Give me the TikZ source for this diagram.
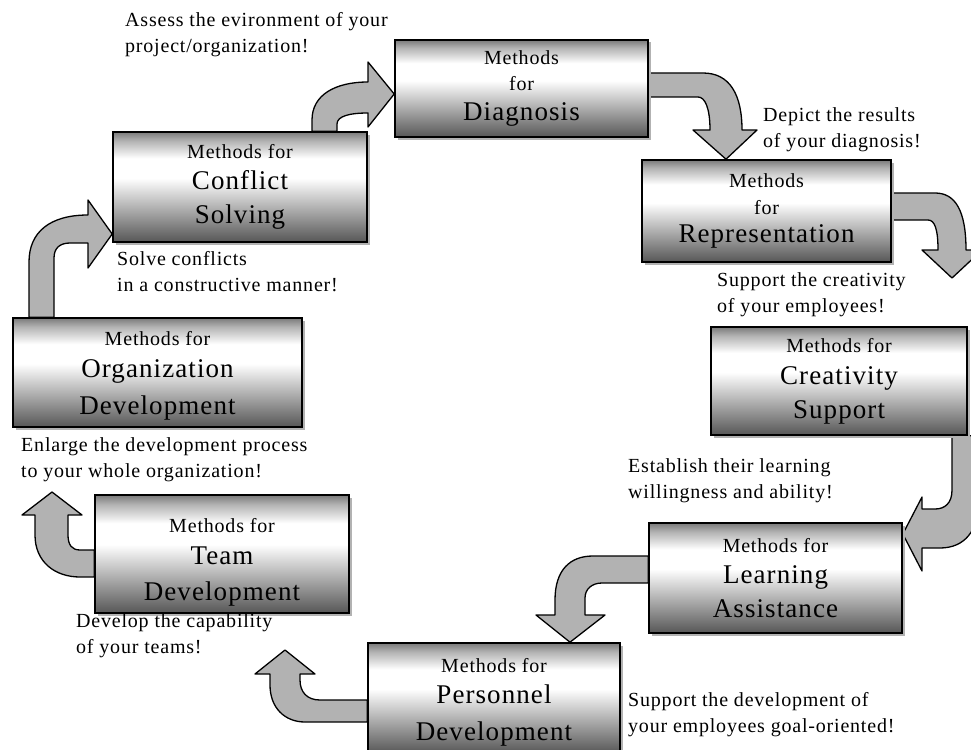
\documentclass[tikz,border=0pt]{standalone}
\usepackage{fontspec}
\setmainfont{Liberation Serif}[LetterSpace=4.0]
\usetikzlibrary{shadows, backgrounds}

\pgfdeclareverticalshading{metal}{100bp}{color(0bp)=(black!66); color(25bp)=(black!66);
  color(40bp)=(black!32); color(54bp)=(white); color(63bp)=(white);
  color(71bp)=(black!30); color(75bp)=(black!52); color(100bp)=(black!52)}

\newcommand{\msm}{\fontsize{20}{24}\selectfont}

\begin{document}
\begin{tikzpicture}[x=1pt, y=-1pt,
  mbox/.style={draw=black, line width=1.6pt, shading=metal, align=center,
               inner sep=0pt, font=\fontsize{27}{34}\selectfont,
               drop shadow={shadow xshift=2.5pt, shadow yshift=-2.5pt, fill=black!30, opacity=1}},
  barrow/.style={draw=black, line width=1.3pt, fill=black!30, line join=round},
  note/.style={anchor=west, align=left, inner sep=0pt, font=\fontsize{20}{26}\selectfont}
]
\useasboundingbox (0,0) rectangle (971,749);

% ---- Method boxes (clockwise from the top) ----
\node[mbox, minimum width=253pt, minimum height=97pt] (diag) at (521.5,88.5)
  {{\msm Methods}\\[-8pt]{\msm for}\\[-4pt]Diagnosis};
\node[mbox, minimum width=249pt, minimum height=102pt] (repr) at (766.5,211)
  {{\msm Methods}\\[-7pt]{\msm for}\\[-6pt]Representation};
\node[mbox, minimum width=256pt, minimum height=108pt] (creat) at (839,381)
  {{\msm Methods for}\\[-2pt]Creativity\\Support};
\node[mbox, minimum width=253pt, minimum height=110pt] (learn) at (775.5,578)
  {{\msm Methods for}\\[-3pt]Learning\\Assistance};
\node[mbox, minimum width=252pt, minimum height=110pt] (pers) at (494,698)
  {\rule{0pt}{22pt}{\msm Methods for}\\[-3pt]Personnel\\[3pt]Development};
\node[mbox, minimum width=254pt, minimum height=118pt] (team) at (222,554)
  {\rule{0pt}{30pt}{\msm Methods for}\\[-2pt]Team\\[2pt]Development};
\node[mbox, minimum width=289pt, minimum height=109pt] (org) at (157.5,372.5)
  {\rule{0pt}{20pt}{\msm Methods for}\\[-2pt]Organization\\[3pt]Development};
\node[mbox, minimum width=254pt, minimum height=110pt] (conflict) at (240,187)
  {{\msm Methods for}\\[-3pt]Conflict\\Solving};

% ---- Hints beside the boxes ----
\node[note] (assess) at (125,35) {Assess the evironment of your\\project/organization!};
\node[note] (depict) at (763,130) {Depict the results\\of your diagnosis!};
\node[note] (suppcreat) at (717,295) {Support the creativity\\of your employees!};
\node[note] (establish) at (628,481) {Establish their learning\\willingness and ability!};
\node[note] (suppdev) at (628,715) {Support the development of\\your employees goal-oriented!};
\node[note] (develop) at (76,636) {Develop the capability\\of your teams!};
\node[note] (enlarge) at (21,460) {Enlarge the development process\\to your whole organization!};
\node[note] (solve) at (117,272) {Solve conflicts\\in a constructive manner!};

% ---- Bent block arrows ----
\begin{scope}[on background layer]
% conflict -> diag
\draw[barrow] (312,0 |- conflict.north) -- (312,120) .. controls (312,95) and (335,82) .. (368,82)
  -- (368,62) -- (diag.west |- 0,94) -- (368,127) -- (368,113)
  .. controls (350,113) and (337,116) .. (337,124) -- (337,0 |- conflict.north) -- cycle;
% diag -> repr
\draw[barrow] (diag.east |- 0,73) -- (703,73) .. controls (730,73) and (742,95) .. (742,130)
  -- (757,130) -- (726,0 |- repr.north) -- (693,130) -- (710,130)
  .. controls (710,108) and (705,97) .. (698,97) -- (diag.east |- 0,97) -- cycle;
% repr -> creat
\draw[barrow] (repr.east |- 0,193) -- (935,193) .. controls (955,193) and (966,210) .. (966,250)
  -- (982,250) -- (952,278) -- (922,250) -- (938,250)
  .. controls (938,230) and (935,220) .. (928,220) -- (repr.east |- 0,220) -- cycle;
% creat -> learn
\draw[barrow] (952,0 |- creat.south) -- (952,490) .. controls (952,503) and (945,509) .. (935,509)
  -- (922,509) -- (922,497) -- (learn.east |- 0,534) -- (922,571) -- (922,548) -- (940,548)
  .. controls (965,548) and (978,530) .. (978,505) -- (978,0 |- creat.south) -- cycle;
% learn -> pers
\draw[barrow] (learn.west |- 0,556) -- (593,556) .. controls (570,556) and (555,570) .. (555,600)
  -- (555,615) -- (536,615) -- (570,0 |- pers.north) -- (605,615) -- (585,615) -- (585,598)
  .. controls (585,589) and (592,583) .. (602,583) -- (learn.west |- 0,583) -- cycle;
% pers -> team
\draw[barrow] (pers.west |- 0,700) -- (320,700) .. controls (307,700) and (300,692) .. (300,680)
  -- (300,674) -- (315,674) -- (285,650) -- (255,674) -- (270,674) -- (270,685)
  .. controls (270,708) and (285,722) .. (305,722) -- (pers.west |- 0,722) -- cycle;
% team -> org
\draw[barrow] (team.west |- 0,550) -- (80,550) .. controls (72,550) and (68,545) .. (68,535)
  -- (68,515) -- (82,515) -- (52,492) -- (22,515) -- (35,515) -- (35,535)
  .. controls (35,562) and (55,577) .. (80,577) -- (team.west |- 0,577) -- cycle;
% org -> conflict
\draw[barrow] (29,0 |- org.north) -- (29,262) .. controls (29,232) and (50,215) .. (88,215)
  -- (88,200) -- (conflict.west |- 0,234) -- (88,268) -- (88,243) -- (70,243)
  .. controls (60,243) and (54,248) .. (54,258) -- (54,0 |- org.north) -- cycle;
\end{scope}

\end{tikzpicture}
\end{document}
